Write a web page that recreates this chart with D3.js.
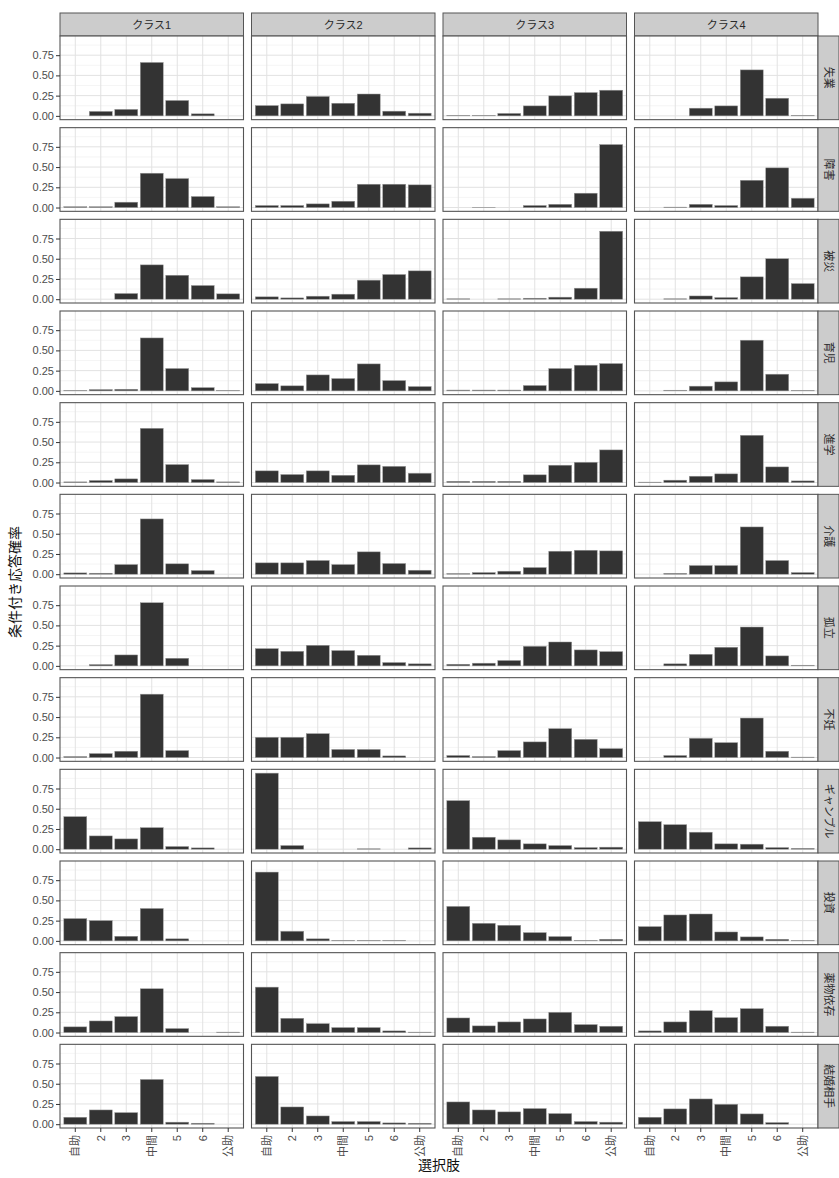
<!DOCTYPE html>
<html>
  <head>
    <meta charset="UTF-8">
    <script src="https://cdn.jsdelivr.net/npm/d3@7"></script>
    <style>
      body { margin: 0; background: #fff; }
      svg text { font-family: "Liberation Sans", "Noto Sans CJK JP", sans-serif; }
    </style>
  </head>
  <body>
    <svg id="chart" width="839" height="1178"></svg>
    <script type="text/javascript">
      // 選択肢・クラス・項目
      var categories = ['自助', '2', '3', '中間', '5', '6', '公助'];
      var classes = ['クラス1', 'クラス2', 'クラス3', 'クラス4'];
      var items = ['失業', '障害', '被災', '育児', '進学', '介護', '孤立', '不妊', 'ギャンブル', '投資', '薬物依存', '結婚相手'];
      var yTicks = [0, 0.25, 0.5, 0.75];

      // 条件付き応答確率 (行 = 項目, 列 = 選択肢), null は棒なし
      var class1 = [
        [null, 0.055, 0.08, 0.66, 0.19, 0.025, null],
        [0.01, 0.01, 0.066, 0.424, 0.358, 0.136, 0.01],
        [null, null, 0.07, 0.424, 0.296, 0.169, 0.066],
        [0.005, 0.016, 0.02, 0.654, 0.276, 0.04, 0.005],
        [0.008, 0.025, 0.045, 0.67, 0.222, 0.037, 0.008],
        [0.016, 0.012, 0.119, 0.683, 0.128, 0.045, null],
        [null, 0.016, 0.135, 0.78, 0.094, null, null],
        [0.012, 0.049, 0.078, 0.783, 0.086, null, null],
        [0.402, 0.164, 0.127, 0.266, 0.033, 0.016, null],
        [0.275, 0.25, 0.057, 0.4, 0.025, null, null],
        [0.07, 0.143, 0.197, 0.541, 0.049, null, 0.005],
        [0.086, 0.176, 0.143, 0.553, 0.025, 0.012, null]
      ];
      var class2 = [
        [0.127, 0.148, 0.24, 0.156, 0.27, 0.058, 0.033],
        [0.025, 0.025, 0.045, 0.078, 0.288, 0.288, 0.28],
        [0.029, 0.016, 0.037, 0.062, 0.235, 0.305, 0.35],
        [0.09, 0.062, 0.197, 0.152, 0.333, 0.127, 0.053],
        [0.144, 0.099, 0.144, 0.09, 0.218, 0.2, 0.115],
        [0.14, 0.14, 0.169, 0.119, 0.276, 0.132, 0.049],
        [0.213, 0.18, 0.254, 0.189, 0.131, 0.041, 0.025],
        [0.25, 0.25, 0.295, 0.1, 0.1, 0.02, null],
        [0.94, 0.045, null, null, 0.005, null, 0.016],
        [0.85, 0.119, 0.025, 0.005, 0.005, 0.005, null],
        [0.561, 0.176, 0.11, 0.061, 0.061, 0.02, 0.005],
        [0.59, 0.213, 0.102, 0.033, 0.033, 0.016, 0.012]
      ];
      var class3 = [
        [0.005, 0.005, 0.03, 0.123, 0.247, 0.288, 0.317],
        [null, 0.003, null, 0.025, 0.04, 0.177, 0.778],
        [0.005, null, 0.005, 0.012, 0.025, 0.136, 0.84],
        [0.01, 0.01, 0.01, 0.066, 0.276, 0.317, 0.337],
        [0.015, 0.015, 0.015, 0.095, 0.214, 0.25, 0.403],
        [0.008, 0.02, 0.037, 0.082, 0.284, 0.296, 0.288],
        [0.02, 0.033, 0.066, 0.242, 0.295, 0.197, 0.176],
        [0.025, 0.012, 0.086, 0.193, 0.357, 0.225, 0.11],
        [0.6, 0.148, 0.115, 0.066, 0.045, 0.02, 0.025],
        [0.426, 0.217, 0.193, 0.102, 0.053, 0.005, 0.02],
        [0.18, 0.082, 0.131, 0.168, 0.25, 0.098, 0.078],
        [0.275, 0.176, 0.152, 0.193, 0.131, 0.033, 0.025]
      ];
      var class4 = [
        [null, null, 0.095, 0.123, 0.568, 0.218, 0.005],
        [null, 0.005, 0.04, 0.025, 0.337, 0.49, 0.115],
        [null, 0.005, 0.04, 0.02, 0.276, 0.5, 0.193],
        [null, 0.008, 0.058, 0.111, 0.626, 0.206, 0.005],
        [0.005, 0.029, 0.078, 0.107, 0.584, 0.193, 0.02],
        [null, 0.01, 0.107, 0.107, 0.584, 0.169, 0.02],
        [null, 0.025, 0.143, 0.23, 0.48, 0.123, 0.008],
        [null, 0.025, 0.238, 0.184, 0.488, 0.078, 0.005],
        [0.34, 0.303, 0.21, 0.066, 0.062, 0.02, 0.01],
        [0.176, 0.32, 0.332, 0.11, 0.049, 0.02, 0.005],
        [0.02, 0.131, 0.27, 0.184, 0.295, 0.078, 0.005],
        [0.086, 0.189, 0.312, 0.246, 0.127, 0.02, null]
      ];
      var classValues = [class1, class2, class3, class4];

      // レイアウト
      var plotLeft = 60, plotRight = 818, plotTop = 36, plotBottom = 1128;
      var gapX = 8, gapY = 8;
      var panelW = (plotRight - plotLeft - gapX * 3) / 4;
      var panelH = (plotBottom - plotTop - gapY * 11) / 12;

      var svg = d3.select('#chart');

      var maxVal = d3.max(classValues, function(c) {
        return d3.max(c, function(r) { return d3.max(r); });
      });
      var pad = maxVal * 0.05;

      var x = d3.scaleBand().domain(categories).range([0, panelW])
        .paddingInner(0.1).paddingOuter(0.15);
      var y = d3.scaleLinear().domain([-pad, maxVal + pad]).range([panelH, 0]);

      var minorTicks = [0.125, 0.375, 0.625, 0.875].filter(function(v) { return v < maxVal + pad; });

      classes.forEach(function(cls, ci) {
        var px = plotLeft + ci * (panelW + gapX);

        // 上のストリップ
        svg.append('rect')
          .attr('x', px).attr('y', 13).attr('width', panelW).attr('height', plotTop - 13)
          .attr('fill', '#cccccc').attr('stroke', '#555').attr('stroke-width', 1);
        svg.append('text')
          .attr('x', px + panelW / 2).attr('y', (13 + plotTop) / 2)
          .attr('text-anchor', 'middle').attr('dominant-baseline', 'central')
          .attr('font-size', 11).attr('fill', '#2a2a2a')
          .text(cls);

        items.forEach(function(item, ri) {
          var py = plotTop + ri * (panelH + gapY);
          var g = svg.append('g').attr('transform', 'translate(' + px + ',' + py + ')');

          g.append('rect').attr('width', panelW).attr('height', panelH).attr('fill', '#fff');

          g.selectAll('.minor').data(minorTicks).enter().append('line')
            .attr('x1', 0).attr('x2', panelW)
            .attr('y1', function(d) { return y(d); }).attr('y2', function(d) { return y(d); })
            .attr('stroke', '#efefef').attr('stroke-width', 0.6);
          g.selectAll('.hmajor').data(yTicks).enter().append('line')
            .attr('x1', 0).attr('x2', panelW)
            .attr('y1', function(d) { return y(d); }).attr('y2', function(d) { return y(d); })
            .attr('stroke', '#e2e2e2').attr('stroke-width', 1);
          g.selectAll('.vmajor').data(categories).enter().append('line')
            .attr('y1', 0).attr('y2', panelH)
            .attr('x1', function(d) { return x(d) + x.bandwidth() / 2; })
            .attr('x2', function(d) { return x(d) + x.bandwidth() / 2; })
            .attr('stroke', '#e2e2e2').attr('stroke-width', 1);

          var rows = categories.map(function(c, k) {
            return { cat: c, value: classValues[ci][ri][k] };
          }).filter(function(d) { return d.value !== null; });

          g.selectAll('.bar').data(rows).enter().append('rect')
            .attr('x', function(d) { return x(d.cat); })
            .attr('width', x.bandwidth())
            .attr('y', function(d) { return y(d.value); })
            .attr('height', function(d) { return y(0) - y(d.value); })
            .attr('fill', '#333333')
            .attr('stroke', '#9a9a9a').attr('stroke-width', 0.5);

          g.append('rect').attr('width', panelW).attr('height', panelH)
            .attr('fill', 'none').attr('stroke', '#555').attr('stroke-width', 1.1);

          // 左の軸
          if (ci === 0) {
            var ya = g.append('g').call(d3.axisLeft(y).tickValues(yTicks)
              .tickFormat(d3.format('.2f')).tickSize(4).tickPadding(2));
            ya.select('.domain').remove();
            ya.selectAll('line').attr('stroke', '#333');
            ya.selectAll('text').attr('font-size', 11).attr('fill', '#4d4d4d');
          }

          // 右のストリップ
          if (ci === 3) {
            svg.append('rect')
              .attr('x', plotRight).attr('y', py).attr('width', 21).attr('height', panelH)
              .attr('fill', '#cccccc').attr('stroke', '#555').attr('stroke-width', 1);
            svg.append('text')
              .attr('transform', 'translate(' + (plotRight + 10.5) + ',' + (py + panelH / 2) + ') rotate(90)')
              .attr('text-anchor', 'middle').attr('dominant-baseline', 'central')
              .attr('font-size', 11).attr('fill', '#2a2a2a')
              .text(item);
          }

          // 下の軸
          if (ri === items.length - 1) {
            var xa = g.append('g').attr('transform', 'translate(0,' + panelH + ')')
              .call(d3.axisBottom(x).tickSize(4).tickPadding(2));
            xa.select('.domain').remove();
            xa.selectAll('line').attr('stroke', '#333');
            xa.selectAll('text')
              .attr('font-size', 11).attr('fill', '#4d4d4d')
              .attr('transform', 'rotate(-90)')
              .attr('x', -7).attr('y', 0).attr('dy', null)
              .attr('text-anchor', 'end').attr('dominant-baseline', 'central');
          }
        });
      });

      // 軸タイトル
      svg.append('text')
        .attr('x', (plotLeft + plotRight) / 2).attr('y', 1170)
        .attr('text-anchor', 'middle').attr('font-size', 14).attr('fill', '#111')
        .text('選択肢');
      svg.append('text')
        .attr('transform', 'translate(15,' + (plotTop + plotBottom) / 2 + ') rotate(-90)')
        .attr('text-anchor', 'middle').attr('dominant-baseline', 'central')
        .attr('font-size', 14).attr('fill', '#111')
        .text('条件付き応答確率');
    </script>
  </body>
</html>
